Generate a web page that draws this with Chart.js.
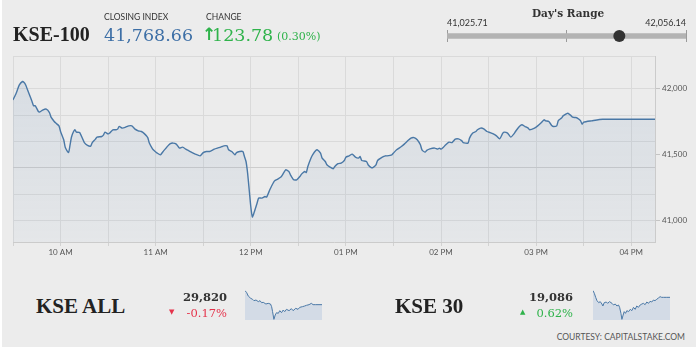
<!DOCTYPE html>
<html>
<head>
<meta charset="utf-8">
<title>KSE-100</title>
<script src="https://cdn.jsdelivr.net/npm/chart.js@4.4.1/dist/chart.umd.min.js"></script>
<style>
    html, body { margin: 0; padding: 0; background: #fff; }
    #board { position: absolute; left: 2px; top: 0; width: 694px; height: 347px; background: #ececec; }
    canvas { position: absolute; }
    .txt { position: absolute; white-space: nowrap; line-height: 1; }
    .index-name { font: 700 20px "Liberation Serif", serif; color: #222; }
    .caption { font: 8.5px Lato, sans-serif; color: #333; }
    .big { font: 17.5px "DejaVu Serif", serif; }
    .up { color: #2fb34b; }
    .down { color: #e5334b; }
    .quote { font: 700 11.5px "DejaVu Serif", serif; color: #333; text-align: right; }
    .move { font: 11.5px "DejaVu Serif", serif; text-align: right; }
    .tri { font: 7px "DejaVu Sans", sans-serif; }
</style>
</head>
<body>
<div id="board"></div>

<canvas id="mainChart" width="696" height="262" style="left:0;top:0"></canvas>
<canvas id="rangeChart" width="256" height="24" style="left:440px;top:24px"></canvas>
<canvas id="sparkAll" width="77" height="30" style="left:245px;top:290px"></canvas>
<canvas id="spark30" width="77" height="30" style="left:593px;top:290px"></canvas>

<!-- header -->
<div class="txt index-name" style="left:13px;top:22.5px">KSE-100</div>
<div class="txt caption" style="left:104px;top:12px">CLOSING INDEX</div>
<div class="txt caption" style="left:206px;top:12px">CHANGE</div>
<div class="txt big" style="left:104px;top:24.5px;color:#3d6fa6">41,768.66</div>
<div class="txt up" style="left:202px;top:24px;font:700 17px 'DejaVu Sans',sans-serif">↑</div>
<div class="txt big up" style="left:212px;top:24.5px">123.78</div>
<div class="txt up" style="left:277px;top:30px;font:11px 'DejaVu Serif',serif">(0.30%)</div>

<div class="txt" style="left:532px;top:7px;font:700 10.5px 'DejaVu Serif',serif;color:#333">Day's Range</div>
<div class="txt" style="left:447px;top:17px;font:9px Lato,sans-serif;color:#333">41,025.71</div>
<div class="txt" style="right:10px;top:17px;font:9px Lato,sans-serif;color:#333">42,056.14</div>

<!-- other indices -->
<div class="txt index-name" style="left:36px;top:294px;font-size:21px">KSE ALL</div>
<div class="txt quote" style="right:469px;top:290.3px">29,820</div>
<div class="txt tri down" style="left:169px;top:308px">▼</div>
<div class="txt move down" style="right:469px;top:306.3px">-0.17%</div>

<div class="txt index-name" style="left:395px;top:294px;font-size:21px">KSE 30</div>
<div class="txt quote" style="right:123px;top:290.3px">19,086</div>
<div class="txt tri up" style="left:520px;top:308px">▲</div>
<div class="txt move up" style="right:123px;top:306.3px">0.62%</div>

<div class="txt" style="right:11px;top:332px;font:8.5px Lato,sans-serif;color:#555">COURTESY: CAPITALSTAKE.COM</div>

<script>
// KSE-100 intraday
const times = [
    '09:30','09:32','09:34','09:36','09:37','09:38','09:40','09:42','09:43','09:44',
    '09:46','09:47','09:49','09:51','09:53','09:54','09:56','09:57','09:59','10:00',
    '10:02','10:03','10:05','10:06','10:07','10:09','10:10','10:12','10:14','10:15',
    '10:17','10:19','10:20','10:22','10:23','10:26','10:27','10:28','10:30','10:31',
    '10:33','10:35','10:36','10:37','10:39','10:41','10:43','10:45','10:47','10:49',
    '10:51','10:53','10:55','10:56','10:58','10:59','11:01','11:03','11:05','11:07',
    '11:09','11:11','11:13','11:15','11:17','11:19','11:21','11:23','11:25','11:28',
    '11:30','11:32','11:34','11:37','11:39','11:41','11:42','11:43','11:45','11:46',
    '11:48','11:50','11:51','11:53','11:55','11:56','11:57','11:58','11:59','12:00',
    '12:01','12:02','12:04','12:05','12:07','12:09','12:10','12:12','12:13','12:15',
    '12:17','12:19','12:20','12:22','12:24','12:25','12:27','12:29','12:31','12:32',
    '12:34','12:35','12:36','12:38','12:39','12:41','12:42','12:44','12:45','12:47',
    '12:48','12:50','12:52','12:53','12:55','12:57','12:59','13:00','13:02','13:04',
    '13:06','13:08','13:09','13:10','13:13','13:14','13:16','13:17','13:19','13:20',
    '13:23','13:25','13:26','13:29','13:30','13:32','13:35','13:37','13:39','13:41',
    '13:43','13:45','13:47','13:48','13:50','13:51','13:53','13:56','13:58','13:59',
    '14:00','14:01','14:03','14:05','14:07','14:09','14:11','14:13','14:14','14:17',
    '14:18','14:20','14:22','14:23','14:25','14:27','14:29','14:31','14:33','14:35',
    '14:37','14:39','14:40','14:42','14:44','14:46','14:47','14:49','14:51','14:53',
    '14:55','14:56','14:59','15:01','15:03','15:05','15:06','15:08','15:10','15:11',
    '15:13','15:14','15:16','15:17','15:19','15:20','15:22','15:23','15:25','15:26',
    '15:28','15:29','15:30','15:35','15:42','16:15'
];
const kse100 = [
    41916, 41967, 42030, 42056.14, 42048, 42030, 41967, 41904, 41871, 41873,
    41828, 41825, 41841, 41846, 41820, 41785, 41752, 41740, 41719, 41676,
    41613, 41554, 41516, 41575, 41638, 41689, 41671, 41668, 41618, 41592,
    41570, 41565, 41592, 41618, 41633, 41638, 41648, 41671, 41658, 41664,
    41689, 41689, 41694, 41714, 41702, 41709, 41719, 41719, 41694, 41681,
    41676, 41658, 41630, 41588, 41544, 41532, 41512, 41499, 41529, 41557,
    41582, 41588, 41580, 41550, 41557, 41542, 41529, 41516, 41504, 41491,
    41516, 41524, 41524, 41542, 41550, 41557, 41562, 41567, 41567, 41537,
    41524, 41499, 41516, 41524, 41524, 41486, 41448, 41360, 41233, 41106,
    41025.71, 41056, 41132, 41170, 41170, 41182, 41178, 41233, 41258, 41301,
    41314, 41330, 41347, 41385, 41372, 41347, 41309, 41309, 41334, 41352,
    41372, 41364, 41410, 41474, 41499, 41532, 41537, 41512, 41474, 41448,
    41423, 41405, 41393, 41410, 41431, 41436, 41456, 41481, 41491, 41504,
    41481, 41474, 41486, 41456, 41448, 41423, 41402, 41402, 41423, 41456,
    41481, 41491, 41491, 41499, 41512, 41537, 41562, 41582, 41605, 41626,
    41630, 41613, 41575, 41537, 41519, 41532, 41544, 41550, 41542, 41550,
    41542, 41550, 41575, 41595, 41592, 41618, 41620, 41607, 41592, 41588,
    41626, 41664, 41676, 41689, 41702, 41696, 41676, 41668, 41658, 41643,
    41620, 41664, 41671, 41664, 41633, 41658, 41676, 41709, 41727, 41714,
    41702, 41689, 41702, 41719, 41740, 41765, 41757, 41752, 41719, 41714,
    41719, 41759, 41778, 41795, 41810, 41815, 41797, 41785, 41782, 41778,
    41759, 41732, 41747, 41757, 41768.66, 41768.66
];

// day's range
const dayLow = 41025.71;
const dayHigh = 42056.14;
const closeValue = 41768.66;

// axis ticks and labels
const hourTicks = [10, 11, 12, 13, 14, 15, 16];
const hourLabels = ['10 AM', '11 AM', '12 PM', '01 PM', '02 PM', '03 PM', '04 PM'];
const halfHourTicks = [9.5, 10, 10.5, 11, 11.5, 12, 12.5, 13, 13.5, 14, 14.5, 15, 15.5, 16];
const yGridValues = [41000, 41200, 41400, 41600, 41800, 42000, 42250];
const yLabelValues = [41000, 41500, 42000];
const yLabels = ['41,000', '41,500', '42,000'];

// KSE ALL sparkline
const allTimes = [
    '09:30','09:39','09:47','10:00','10:10','10:17','10:28','10:40','10:49','10:57',
    '11:06','11:20','11:32','11:44','11:50','11:55','12:02','12:09','12:16','12:25',
    '12:33','12:42','12:51','12:59','13:08','13:22','13:34','13:43','13:57','14:09',
    '14:18','14:32','14:44','14:53','15:07','15:19','15:28','15:42','15:54','16:15'
];
const kseAll = [
    30177, 30126, 30041, 29982, 29956, 29922, 29939, 29897, 29922, 29871,
    29880, 29837, 29854, 29837, 29769, 29642, 29446, 29557, 29616, 29599,
    29667, 29616, 29684, 29642, 29701, 29667, 29718, 29667, 29727, 29701,
    29752, 29769, 29786, 29803, 29820, 29854, 29820, 29820, 29820, 29820
];

// KSE 30 sparkline
const k30Times = [
    '09:30','09:37','09:44','09:51','10:00','10:08','10:17','10:22','10:29','10:40',
    '10:47','10:57','11:10','11:18','11:27','11:36','11:44','11:50','11:57','12:02',
    '12:07','12:14','12:21','12:28','12:37','12:46','12:54','13:03','13:12','13:20',
    '13:29','13:38','13:47','13:55','14:04','14:13','14:22','14:30','14:39','14:48',
    '14:56','15:05','15:14','15:23','15:31','15:40','15:58','16:15'
];
const kse30 = [
    19196, 19152, 19086, 19031, 18998, 19015, 18976, 18943, 18998, 19009,
    18987, 19015, 18987, 18960, 18976, 18943, 18960, 18921, 18822, 18723,
    18778, 18850, 18822, 18866, 18850, 18888, 18866, 18921, 18888, 18943,
    18921, 18960, 18976, 18987, 18965, 19009, 18987, 19020, 19009, 19042,
    19031, 19053, 19075, 19097, 19086, 19086, 19086, 19086
];

const lineBlue = '#4a78a6';
const tickFont = { family: 'Lato', size: 8 };

function toHours(t) {
    const [h, m] = t.split(':').map(Number);
    return h + m / 60;
}

function toPoints(ts, values) {
    return ts.map((t, i) => ({ x: toHours(t), y: values[i] }));
}

// soft vertical fade under the main line
function areaFill(context) {
    const chart = context.chart;
    const area = chart.chartArea;
    if (!area) return 'rgba(90, 130, 175, 0.1)';
    const g = chart.ctx.createLinearGradient(0, area.top, 0, area.bottom);
    g.addColorStop(0, 'rgba(90, 130, 175, 0.15)');
    g.addColorStop(1, 'rgba(90, 130, 175, 0.05)');
    return g;
}

// Main intraday chart
new Chart(document.getElementById('mainChart'), {
    type: 'line',
    data: {
        datasets: [{
            data: toPoints(times, kse100),
            borderColor: lineBlue,
            borderWidth: 1.4,
            pointRadius: 0,
            tension: 0.2,
            fill: 'start',
            backgroundColor: areaFill
        }]
    },
    options: {
        responsive: false,
        animation: false,
        layout: { padding: { left: 13, top: 56 } },
        plugins: { legend: { display: false }, tooltip: { enabled: false } },
        scales: {
            x: {
                type: 'linear',
                min: 9.5,
                max: 16.25,
                afterBuildTicks: scale => { scale.ticks = halfHourTicks.map(v => ({ value: v })); },
                afterFit: scale => { scale.height = 20; },
                ticks: {
                    autoSkip: false,
                    maxRotation: 0,
                    padding: 2,
                    color: '#555',
                    font: tickFont,
                    callback: value => {
                        const i = hourTicks.indexOf(value);
                        return i >= 0 ? hourLabels[i] : '';
                    }
                },
                grid: { color: '#dadada', tickLength: 4, tickColor: '#d2d2d2' },
                border: { color: '#cbcbcb' }
            },
            y: {
                position: 'right',
                min: 40836,
                max: 42250,
                afterBuildTicks: scale => {
                    scale.ticks = yGridValues.concat([41500]).sort((a, b) => a - b).map(v => ({ value: v }));
                },
                afterFit: scale => { scale.width = 41; },
                ticks: {
                    autoSkip: false,
                    padding: 2,
                    color: '#555',
                    font: tickFont,
                    callback: value => {
                        const i = yLabelValues.indexOf(value);
                        return i >= 0 ? yLabels[i] : '';
                    }
                },
                grid: {
                    tickLength: 5,
                    color: ctx => {
                        const v = ctx.tick && ctx.tick.value;
                        if (v === 41500) return 'rgba(0,0,0,0)';
                        return v === 41400 ? '#cdcdcd' : '#dadada';
                    },
                    tickColor: ctx => yLabelValues.includes(ctx.tick && ctx.tick.value) ? '#c4c4c4' : 'rgba(0,0,0,0)'
                },
                border: { color: '#cbcbcb' }
            }
        }
    }
});

// Day's range bar with the closing marker
new Chart(document.getElementById('rangeChart'), {
    type: 'bar',
    data: {
        labels: [''],
        datasets: [
            {
                type: 'scatter',
                data: [{ x: closeValue, y: 0 }],
                pointRadius: 6,
                pointBackgroundColor: '#333',
                pointBorderWidth: 0,
                order: 0
            },
            {
                data: [[dayLow, dayHigh]],
                backgroundColor: '#b3b3b3',
                barThickness: 5,
                order: 1
            }
        ]
    },
    options: {
        indexAxis: 'y',
        responsive: false,
        animation: false,
        layout: { padding: { left: 7, right: 10, top: 4, bottom: 6 } },
        plugins: { legend: { display: false }, tooltip: { enabled: false } },
        scales: {
            x: {
                type: 'linear',
                min: dayLow,
                max: dayHigh,
                afterBuildTicks: scale => {
                    scale.ticks = [dayLow, (dayLow + dayHigh) / 2, dayHigh].map(v => ({ value: v }));
                },
                afterFit: scale => { scale.height = 0; },
                ticks: { display: false },
                grid: { color: '#9a9a9a', drawTicks: false },
                border: { display: false }
            },
            y: { display: false }
        }
    }
});

// Small area charts for the other indices
function sparkline(id, ts, values, yMin, yMax) {
    new Chart(document.getElementById(id), {
        type: 'line',
        data: {
            datasets: [{
                data: toPoints(ts, values),
                borderColor: lineBlue,
                borderWidth: 1,
                pointRadius: 0,
                tension: 0,
                fill: 'start',
                backgroundColor: '#d3dbe6',
                clip: 2
            }]
        },
        options: {
            responsive: false,
            animation: false,
            layout: { padding: 0 },
            plugins: { legend: { display: false }, tooltip: { enabled: false } },
            scales: {
                x: { type: 'linear', min: 9.5, max: 16.25, display: false },
                y: { min: yMin, max: yMax, display: false }
            }
        }
    });
}

sparkline('sparkAll', allTimes, kseAll, 29429, 30194);
sparkline('spark30', k30Times, kse30, 18712, 19207);
</script>
</body>
</html>
